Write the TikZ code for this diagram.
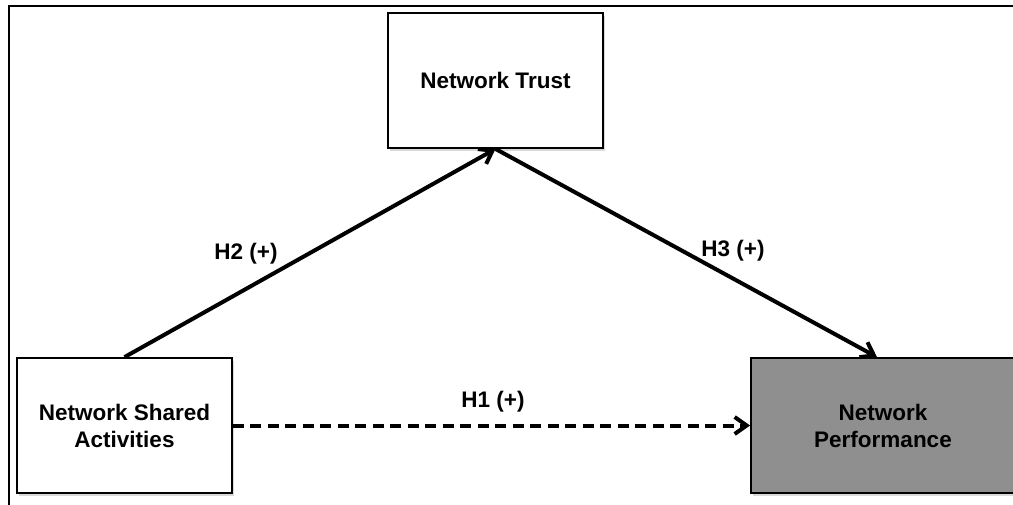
\documentclass[tikz,border=0pt]{standalone}
\usepackage{fontspec}
\setmainfont{Liberation Sans}
\usetikzlibrary{arrows.meta,shadows}
\definecolor{perfgray}{RGB}{143,143,143}
\begin{document}
\begin{tikzpicture}[x=1pt,y=-1pt,
  construct/.style={draw=black, line width=1.8pt, fill=white,
    minimum width=215pt, minimum height=135pt, inner sep=0pt,
    align=center, font=\fontsize{22.5}{27}\selectfont\bfseries,
    drop shadow={opacity=0.3, shadow xshift=1.5pt, shadow yshift=-2.5pt}},
  path/.style={line width=4pt, -{Straight Barb[length=12pt, width=17pt]}},
  hyp/.style={font=\fontsize{22.5}{27}\selectfont\bfseries, inner sep=0pt}]
  \useasboundingbox (0,0) rectangle (1013,504);
  \clip (0,0) rectangle (1013,504);
  % outer frame, running past the page edge at right and bottom
  \draw[line width=2.6pt] (9,520) -- (9,6) -- (1030,6);

  % constructs
  \node[construct] (trust) at (495.5,80.5) {Network Trust};
  \node[construct] (nsa) at (124.5,425.5) {Network Shared\\Activities};
  \node[construct, fill=perfgray, minimum width=264pt] (perf) at (883,425.5) {Network\\Performance};

  % hypothesised paths
  \draw[path] (nsa.north) -- (trust.south);
  \draw[path] (trust.south) -- ([xshift=-6pt]perf.north);
  \draw[path, dash pattern=on 11pt off 6.5pt] (nsa.east) -- (perf.west);

  % path labels
  \node[hyp] (h1) at (493,402) {H1 (+)};
  \node[hyp] (h2) at (246,254) {H2 (+)};
  \node[hyp] (h3) at (733,251) {H3 (+)};
\end{tikzpicture}
\end{document}
